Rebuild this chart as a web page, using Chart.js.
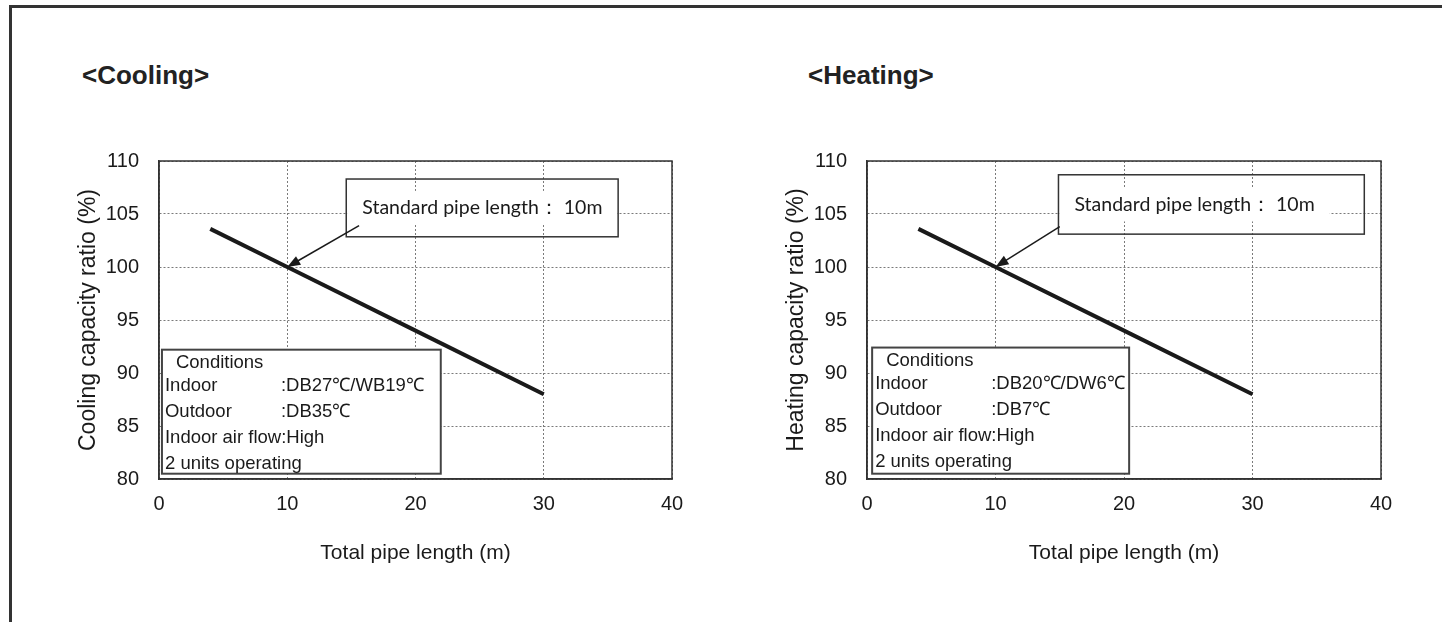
<!DOCTYPE html>
<html>
<head>
<meta charset="utf-8">
<script src="https://cdn.jsdelivr.net/npm/chart.js@4.4.1/dist/chart.umd.min.js"></script>
<style>
body { margin: 0; background: #fff; width: 1442px; height: 622px; overflow: hidden; position: relative; font-family: "Liberation Sans", Arial, sans-serif; }
#frame { position: absolute; left: 9px; top: 5px; width: 1500px; height: 700px; border-left: 3px solid #333; border-top: 3px solid #333; }
.title { position: absolute; top: 60px; line-height: 30px; font-weight: bold; font-size: 26px; color: #222; }
canvas { position: absolute; }
</style>
</head>
<body>
<div id="frame"></div>
<div class="title" style="left:82px">&lt;Cooling&gt;</div>
<div class="title" style="left:808px">&lt;Heating&gt;</div>
<canvas id="coolingChart" width="640" height="451" style="left:60px;top:129px;width:640px;height:451px"></canvas>
<canvas id="heatingChart" width="641" height="451" style="left:768px;top:129px;width:641px;height:451px"></canvas>
<script>
const pipeLength = [4, 10, 20, 30];
const coolingRatio = [103.6, 100, 94, 88];
const heatingRatio = [103.6, 100, 94, 88];
const xTicks = [0, 10, 20, 30, 40];
const yTicks = [80, 85, 90, 95, 100, 105, 110];

const coolingConditions = [
    ['Indoor', ':DB27\u2103/WB19\u2103'],
    ['Outdoor', ':DB35\u2103'],
    ['Indoor air flow:High', ''],
    ['2 units operating', '']
];
const heatingConditions = [
    ['Indoor', ':DB20\u2103/DW6\u2103'],
    ['Outdoor', ':DB7\u2103'],
    ['Indoor air flow:High', ''],
    ['2 units operating', '']
];

Chart.defaults.color = '#1a1a1a';
Chart.defaults.font.family = '"Liberation Sans", Arial, sans-serif';

const notesPlugin = {
    id: 'notes',
    afterDatasetsDraw(chart, args, opts) {
        const {ctx, chartArea: a, scales: {x, y}} = chart;
        ctx.save();

        // plot frame
        ctx.strokeStyle = '#333';
        ctx.lineWidth = 1.5;
        ctx.strokeRect(a.left, a.top, a.right - a.left, a.bottom - a.top);

        // callout box with arrow
        const c = opts.callout;
        const bx1 = x.getPixelForValue(c.box[0]), by1 = y.getPixelForValue(c.box[1]);
        const bx2 = x.getPixelForValue(c.box[2]), by2 = y.getPixelForValue(c.box[3]);
        ctx.font = '19.5px Lato, "Open Sans", sans-serif';
        const tw = ctx.measureText(c.text).width;
        const tx = bx1 + 16, ty = (by1 + by2) / 2;
        ctx.fillStyle = '#fff';
        ctx.fillRect(bx1 + 1, ty - 17, Math.min(tw + 30, bx2 - bx1 - 2), 34);
        ctx.strokeStyle = '#333';
        ctx.lineWidth = 1.5;
        ctx.strokeRect(bx1, by1, bx2 - bx1, by2 - by1);
        ctx.fillStyle = '#1a1a1a';
        ctx.textBaseline = 'middle';
        ctx.fillText(c.text, tx, ty);

        const sx = x.getPixelForValue(c.from[0]), sy = y.getPixelForValue(c.from[1]);
        const ex = x.getPixelForValue(c.tip[0]), ey = y.getPixelForValue(c.tip[1]);
        const ang = Math.atan2(ey - sy, ex - sx);
        ctx.strokeStyle = '#1a1a1a';
        ctx.lineWidth = 1.5;
        ctx.beginPath();
        ctx.moveTo(sx, sy);
        ctx.lineTo(ex - 10 * Math.cos(ang), ey - 10 * Math.sin(ang));
        ctx.stroke();
        ctx.beginPath();
        ctx.moveTo(ex, ey);
        ctx.lineTo(ex - 13 * Math.cos(ang) + 5 * Math.sin(ang), ey - 13 * Math.sin(ang) - 5 * Math.cos(ang));
        ctx.lineTo(ex - 13 * Math.cos(ang) - 5 * Math.sin(ang), ey - 13 * Math.sin(ang) + 5 * Math.cos(ang));
        ctx.closePath();
        ctx.fill();

        // conditions box
        const k = opts.conditions;
        const kx1 = x.getPixelForValue(k.box[0]), ky1 = y.getPixelForValue(k.box[1]);
        const kx2 = x.getPixelForValue(k.box[2]), ky2 = y.getPixelForValue(k.box[3]);
        ctx.fillStyle = '#fff';
        ctx.fillRect(kx1, ky1, kx2 - kx1, ky2 - ky1);
        ctx.strokeStyle = '#444';
        ctx.lineWidth = 2;
        ctx.strokeRect(kx1, ky1, kx2 - kx1, ky2 - ky1);
        ctx.fillStyle = '#1a1a1a';
        ctx.font = '18.5px "Liberation Sans", Arial, sans-serif';
        ctx.fillText('Conditions', kx1 + 14, ky1 + 13);
        k.rows.forEach((r, i) => {
            const ry = ky1 + 36 + i * 26;
            ctx.fillText(r[0], kx1 + 3, ry);
            if (r[1]) ctx.fillText(r[1], kx1 + 119, ry);
        });
        ctx.restore();
    }
};

function makeChart(id, yTitle, values, notes) {
    return new Chart(document.getElementById(id), {
        type: 'line',
        data: {
            datasets: [{
                data: pipeLength.map((v, i) => ({x: v, y: values[i]})),
                borderColor: '#1a1a1a',
                borderWidth: 4,
                pointRadius: 0,
                tension: 0
            }]
        },
        options: {
            responsive: false,
            animation: false,
            layout: {
                padding: {top: 8, right: 28, left: 0, bottom: 0}
            },
            scales: {
                x: {
                    type: 'linear',
                    min: xTicks[0],
                    max: xTicks[xTicks.length - 1],
                    ticks: {
                        stepSize: xTicks[1] - xTicks[0],
                        padding: 13,
                        font: {size: 20}
                    },
                    grid: {
                        color: '#7a7a7a',
                        lineWidth: 1,
                        drawTicks: false
                    },
                    border: {
                        color: '#333',
                        width: 1.5,
                        dash: [2, 2]
                    },
                    title: {
                        display: true,
                        text: 'Total pipe length (m)',
                        font: {size: 21},
                        padding: {top: 0, bottom: 14.4}
                    },
                    afterFit: s => { s.height = 101; }
                },
                y: {
                    min: yTicks[0],
                    max: yTicks[yTicks.length - 1],
                    ticks: {
                        stepSize: yTicks[1] - yTicks[0],
                        padding: 20,
                        font: {size: 20}
                    },
                    grid: {
                        color: '#7a7a7a',
                        lineWidth: 1,
                        drawTicks: false
                    },
                    border: {
                        color: '#333',
                        width: 1.5,
                        dash: [2, 2]
                    },
                    title: {
                        display: true,
                        text: yTitle,
                        font: {size: 23},
                        padding: {top: 14.9, bottom: 0}
                    },
                    afterFit: s => { s.width = 99; }
                }
            },
            plugins: {
                legend: {display: false},
                tooltip: {enabled: false},
                notes: notes
            }
        },
        plugins: [notesPlugin]
    });
}

makeChart('coolingChart', 'Cooling capacity ratio (%)', coolingRatio, {
    callout: {text: 'Standard pipe length\uFF1A 10m', box: [14.6, 108.3, 35.8, 102.85], from: [15.6, 103.9], tip: [10, 100]},
    conditions: {box: [0.23, 92.2, 21.97, 80.5], rows: coolingConditions}
});
makeChart('heatingChart', 'Heating capacity ratio (%)', heatingRatio, {
    callout: {text: 'Standard pipe length\uFF1A 10m', box: [14.9, 108.7, 38.7, 103.1], from: [15.0, 103.8], tip: [10, 100]},
    conditions: {box: [0.4, 92.4, 20.4, 80.5], rows: heatingConditions}
});
</script>
</body>
</html>
